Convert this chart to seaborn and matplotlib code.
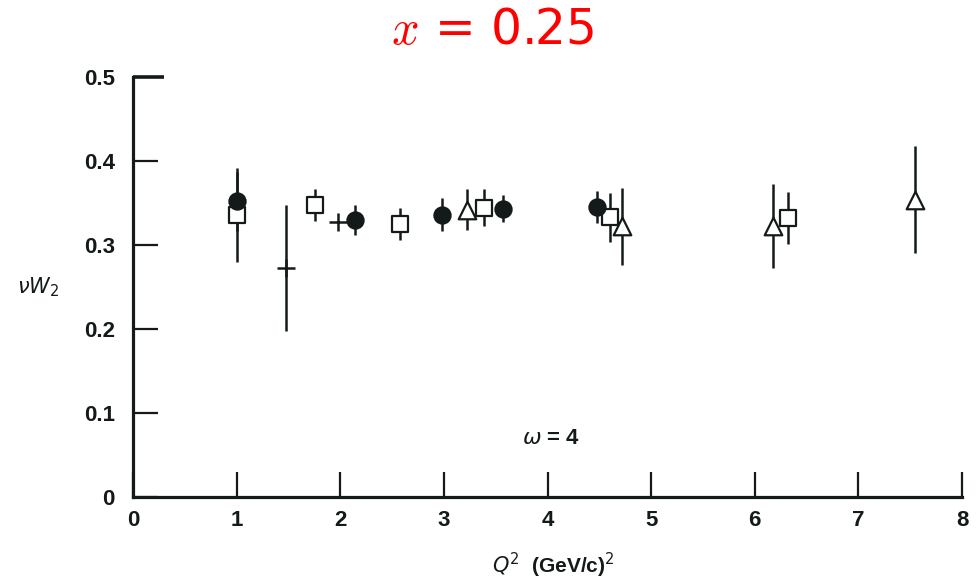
import pandas as pd
import matplotlib
matplotlib.use('Agg')
import matplotlib.pyplot as plt
import seaborn as sns

# Q^2 (GeV/c)^2, nu*W2 and error, by symbol
circle_x = [1.0, 2.14, 2.98, 3.57, 4.48]
circle_y = [0.352, 0.330, 0.336, 0.343, 0.345]
circle_err = [0.035, 0.018, 0.020, 0.016, 0.019]

square_x = [1.0, 1.76, 2.58, 3.39, 4.60, 6.32]
square_y = [0.336, 0.348, 0.325, 0.344, 0.333, 0.332]
square_err = [0.056, 0.019, 0.019, 0.022, 0.029, 0.031]

triangle_x = [3.22, 4.72, 6.18, 7.55]
triangle_y = [0.342, 0.322, 0.323, 0.354]
triangle_err = [0.024, 0.046, 0.050, 0.064]

plus_x = [1.48, 1.98]
plus_y = [0.273, 0.327]
plus_err = [0.075, 0.0]

x_ticks = [0, 1, 2, 3, 4, 5, 6, 7, 8]
y_ticks = [0, 0.1, 0.2, 0.3, 0.4, 0.5]
y_ticklabels = ['0', '0.1', '0.2', '0.3', '0.4', '0.5']

ink = '#141a1a'

sns.set_style('ticks')
plt.rcParams['font.family'] = ['Liberation Sans', 'DejaVu Sans']
plt.rcParams['mathtext.fontset'] = 'cm'

fig = plt.figure(figsize=(9.8, 5.82), dpi=100)
ax = fig.add_axes([0.1357, 0.146, 0.846, 0.722])

series = [
    ('square', square_x, square_y, square_err, 's', 'white', 125),
    ('triangle', triangle_x, triangle_y, triangle_err, '^', 'white', 160),
    ('plus', plus_x, plus_y, plus_err, '+', ink, 170),
    ('circle', circle_x, circle_y, circle_err, 'o', ink, 135),
]

for name, xs, ys, errs, mk, face, size in series:
    df = pd.DataFrame({'q2': xs, 'w2': ys, 'err': errs})
    ax.errorbar(df['q2'], df['w2'], yerr=df['err'], fmt='none',
                ecolor=ink, elinewidth=1.8, capsize=0, zorder=2)
    if mk == '+':
        sns.scatterplot(data=df, x='q2', y='w2', marker='+', s=size,
                        color=ink, linewidth=1.8, ax=ax, zorder=3)
    else:
        sns.scatterplot(data=df, x='q2', y='w2', marker=mk, s=size,
                        facecolor=face, edgecolor=ink, linewidth=1.6,
                        ax=ax, zorder=3)

ax.set_xlim(0, 8)
ax.set_ylim(0, 0.5)
ax.set_xticks(x_ticks)
ax.set_xticklabels([str(t) for t in x_ticks])
ax.set_yticks(y_ticks)
ax.set_yticklabels(y_ticklabels)

sns.despine(ax=ax, top=True, right=True)
for side in ['left', 'bottom']:
    ax.spines[side].set_linewidth(2.3)
    ax.spines[side].set_color(ink)

ax.tick_params(direction='in', length=18, width=1.6, color=ink,
               labelsize=16, labelcolor=ink, pad=9)
ax.tick_params(axis='y', pad=13)
for lab in ax.get_xticklabels() + ax.get_yticklabels():
    lab.set_fontweight('bold')
top_tick = ax.yaxis.get_major_ticks()[-1]
top_tick.tick1line.set_markersize(22)
top_tick.tick1line.set_markeredgewidth(2.6)

ax.set_xlabel('')
ax.set_ylabel('')
fig.text(553 / 980, 1 - 565 / 582, r'$Q^2$  (GeV/c)$^2$', fontsize=15,
         fontweight='bold', color=ink, ha='center', va='center',
         math_fontfamily='dejavusans')
fig.text(38 / 980, 1 - 287 / 582, r'$\nu W_2$', fontsize=15, color=ink,
         ha='center', va='center', math_fontfamily='dejavusans')
ax.text(4.03, 0.070, r'$\omega$ = 4', fontsize=16, color=ink,
        ha='center', va='center', fontweight='bold',
        math_fontfamily='dejavusans')

fig.text(0.502, 0.949, r'$x$ = 0.25', color='red', fontsize=35,
         ha='center', va='center', family='DejaVu Sans')

fig.savefig('out.png', dpi=100)
